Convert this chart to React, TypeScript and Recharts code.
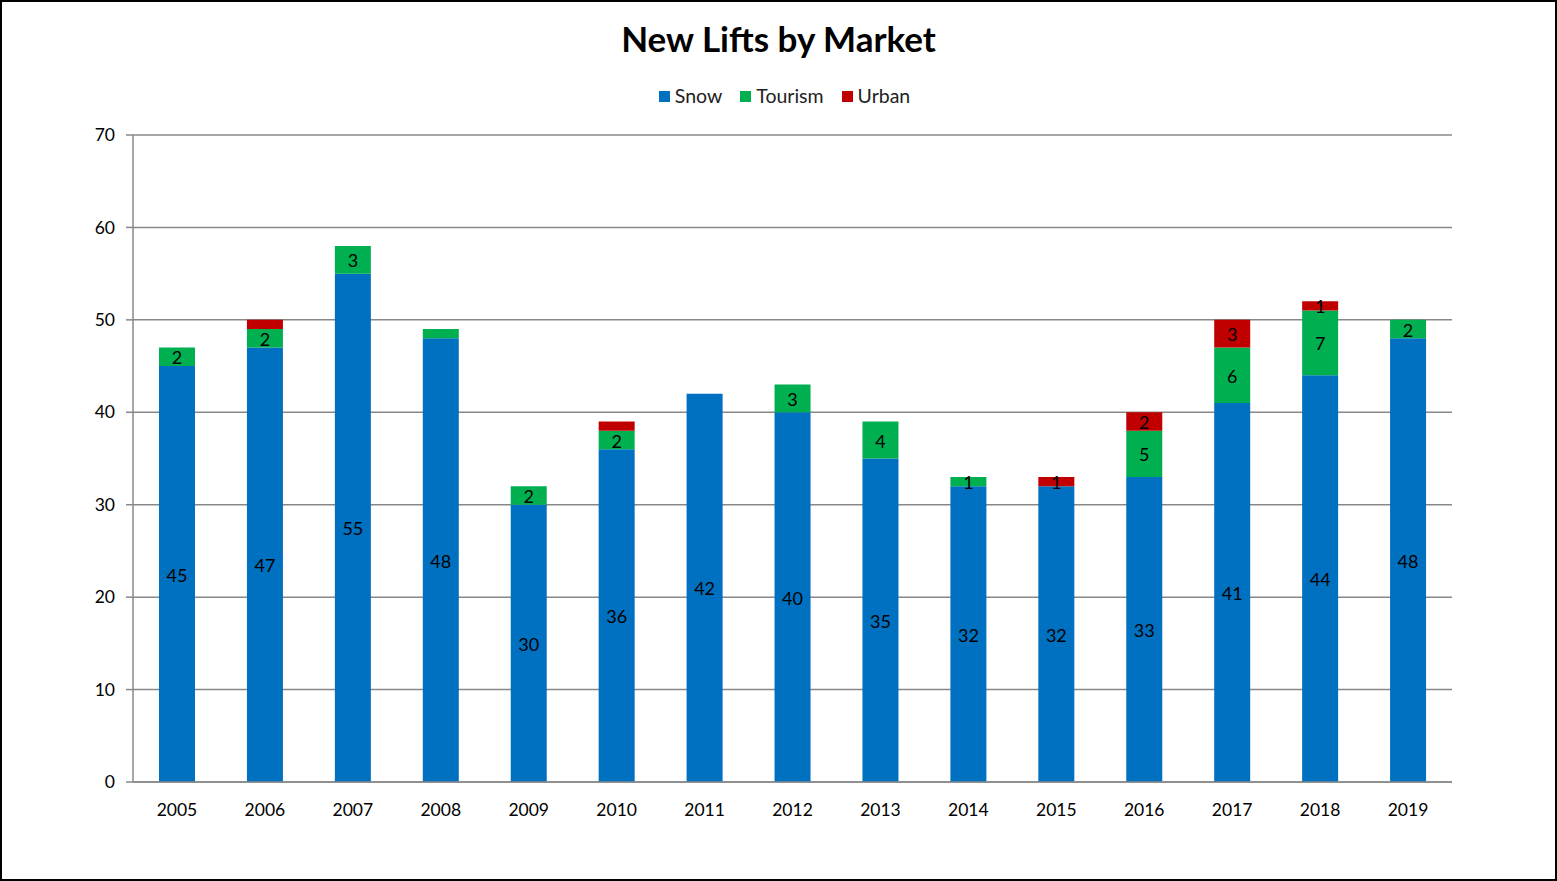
import React from "react";
import { BarChart, Bar, XAxis, YAxis, CartesianGrid, LabelList, Legend } from "recharts";

const years = ["2005","2006","2007","2008","2009","2010","2011","2012","2013","2014","2015","2016","2017","2018","2019"];
const snow = [45,47,55,48,30,36,42,40,35,32,32,33,41,44,48];
const tourism = [2,2,3,1,2,2,0,3,4,1,0,5,6,7,2];
const urban = [0,1,0,0,0,1,0,0,0,0,1,2,3,1,0];
const snowLabels = [45,47,55,48,30,36,42,40,35,32,32,33,41,44,48];
const tourismLabels: (number | null)[] = [2,2,3,null,2,2,null,3,4,1,null,5,6,7,2];
const urbanLabels: (number | null)[] = [null,null,null,null,null,null,null,null,null,null,1,2,3,1,null];
const yTicks = [0,10,20,30,40,50,60,70];

const data = years.map((y, i) => ({
  year: y,
  snow: snow[i],
  tourism: tourism[i],
  urban: urban[i],
  snowLabel: snowLabels[i],
  tourismLabel: tourismLabels[i],
  urbanLabel: urbanLabels[i],
}));

const FONT = "Lato, 'Open Sans', sans-serif";
const series = [
  { key: "snow", name: "Snow", color: "#0070C0" },
  { key: "tourism", name: "Tourism", color: "#00B050" },
  { key: "urban", name: "Urban", color: "#C00000" },
];

const makeLabel = (props: any) => {
  const { x, y, width, height, value } = props;
  if (value === null || value === undefined) return null;
  return (
    <text x={Number(x) + Number(width) / 2} y={Number(y) + Number(height) / 2} dy={7.5}
      textAnchor="middle" fontSize={18} fontFamily={FONT} fill="#000">{value}</text>
  );
};

const LegendContent = () => (
  <div style={{ display: "flex", justifyContent: "center", fontFamily: FONT, fontSize: 19.5, color: "#222", height: 20, lineHeight: "20px", paddingLeft: 12 }}>
    {series.map((s, i) => (
      <div key={s.key} style={{ display: "flex", alignItems: "center", marginRight: i < series.length - 1 ? 18 : 0 }}>
        <span style={{ width: 11, height: 11, background: s.color, display: "inline-block", marginRight: 5 }} />
        <span>{s.name}</span>
      </div>
    ))}
  </div>
);

export default function App() {
  return (
    <div style={{ position: "fixed", left: 0, top: 0, width: 1557, height: 881, boxSizing: "border-box", border: "2px solid #000", background: "#fff" }}>
      <div style={{ position: "absolute", left: 0, top: 15, width: 1553, textAlign: "center", fontFamily: FONT, fontWeight: 700, fontSize: 35, color: "#000" }}>
        New Lifts by Market
      </div>
      <BarChart width={1553} height={877} data={data} margin={{ top: 113, right: 103, bottom: 67, left: 0 }}>
        <CartesianGrid vertical={false} stroke="#888888" strokeWidth={1.5} />
        <XAxis dataKey="year" tickLine={false} axisLine={{ stroke: "#888888", strokeWidth: 1.5 }} tickSize={6} tickMargin={16} height={30}
          tick={{ fontSize: 17.5, fontFamily: FONT, fill: "#000" }} interval={0} />
        <YAxis domain={[0, 70]} ticks={yTicks} width={131} tickSize={7} tickMargin={11}
          axisLine={{ stroke: "#888888", strokeWidth: 1.5 }} tickLine={{ stroke: "#888888", strokeWidth: 1.5 }}
          tick={{ fontSize: 17.5, fontFamily: FONT, fill: "#000" }} />
        <Legend verticalAlign="top" content={<LegendContent />} wrapperStyle={{ top: 84, left: 0, width: 1553 }} />
        <Bar dataKey="snow" name="Snow" stackId="a" fill="#0070C0" barSize={36} isAnimationActive={false}>
          <LabelList dataKey="snowLabel" content={makeLabel} />
        </Bar>
        <Bar dataKey="tourism" name="Tourism" stackId="a" fill="#00B050" barSize={36} isAnimationActive={false}>
          <LabelList dataKey="tourismLabel" content={makeLabel} />
        </Bar>
        <Bar dataKey="urban" name="Urban" stackId="a" fill="#C00000" barSize={36} isAnimationActive={false}>
          <LabelList dataKey="urbanLabel" content={makeLabel} />
        </Bar>
      </BarChart>
    </div>
  );
}
